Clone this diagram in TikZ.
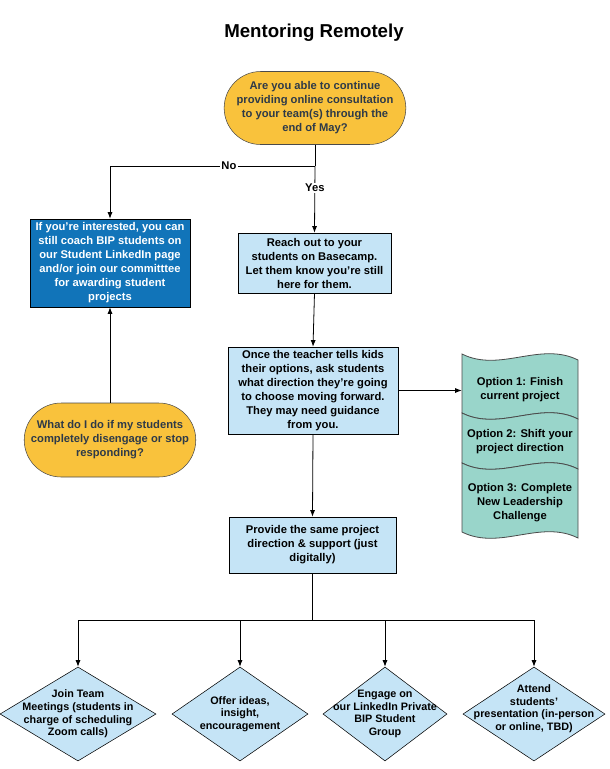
\documentclass[tikz,border=0pt]{standalone}
\usepackage{fontspec}
\setmainfont{Liberation Sans}
\usepackage{tikz}
\usetikzlibrary{shapes.geometric,shapes.misc,arrows.meta}

\definecolor{askgold}{HTML}{F9C23C}
\definecolor{askink}{HTML}{2E3A48}
\definecolor{coachblue}{HTML}{1174B9}
\definecolor{stepblue}{HTML}{C5E4F6}
\definecolor{optteal}{HTML}{99D5CA}
\definecolor{optline}{HTML}{4A4A4A}

% one pixel of the page
\newcommand{\pxu}{0.75pt}

\tikzset{
  boxfont/.style = {font = \fontsize{8.4}{10.5}\selectfont\bfseries, align = center},
  askbox/.style = {rounded rectangle, boxfont,
      draw = optline,
      fill = askgold,
      text = askink,
      inner sep = 1pt},
  stepbox/.style = {rectangle, boxfont,
      draw = black,
      fill = stepblue,
      inner sep = 1pt},
  optshape/.style = {draw = optline, fill = optteal, line width = 0.6pt},
  opttext/.style = {boxfont, minimum width = 116*\pxu, inner sep = 1pt},
  waybox/.style = {diamond,
      draw = black,
      fill = stepblue,
      inner sep = 0pt,
      minimum height = 94*\pxu},
  waytext/.style = {font = \fontsize{8.1}{9.5}\selectfont\bfseries, align = center},
  flow/.style = {draw = black, line width = 0.6pt, -{Latex[length = 5pt, width = 3.8pt]}},
  lbl/.style = {fill = white, inner sep = 1pt, font = \fontsize{8.4}{10}\selectfont\bfseries}
}

\begin{document}
\begin{tikzpicture}[x = 0.75pt, y = -0.75pt]
\useasboundingbox (0,0) rectangle (610,769);

\node[font = \fontsize{14}{16}\selectfont\bfseries] (title) at (314,33) {Mentoring Remotely};

% question at the top
\node[askbox,
    minimum width = 169*\pxu,
    minimum height = 73*\pxu] (ask) at (315,108)
    {Are you able to continue\\providing online consultation\\to your team(s) through the\\end of May?};

% no branch
\node[stepbox,
    fill = coachblue,
    text = white,
    minimum width = 160*\pxu,
    minimum height = 88*\pxu] (coach) at (110,263)
    {If you're interested, you can\\still coach BIP students on\\our Student LinkedIn page\\and/or join our committtee\\for awarding student\\projects};

\node[askbox,
    minimum width = 170*\pxu,
    minimum height = 74*\pxu] (quit) at (110,440)
    {What do I do if my students\\completely disengage or stop\\responding?};

% yes branch
\node[stepbox,
    minimum width = 153*\pxu,
    minimum height = 60*\pxu] (reach) at (314.5,263)
    {Reach out to your\\students on Basecamp.\\Let them know you're still\\here for them.};

\node[stepbox,
    minimum width = 170*\pxu,
    minimum height = 87*\pxu] (once) at (313,390.5)
    {Once the teacher tells kids\\their options, ask students\\what direction they're going\\to choose moving forward.\\They may need guidance\\from you.};

\node[stepbox,
    minimum width = 167*\pxu,
    minimum height = 56*\pxu] (provide) at (312.5,545)
    {Provide the same project\\direction \& support (just\\digitally)};

% options, three wavy strips
\filldraw[optshape] (462,354) .. controls (500,373) and (540,341) .. (578,360)
    -- (578,419) .. controls (540,400) and (500,432) .. (462,413) -- cycle;
\filldraw[optshape] (462,413) .. controls (500,432) and (540,400) .. (578,419)
    -- (578,469) .. controls (540,450) and (500,482) .. (462,463) -- cycle;
\filldraw[optshape] (462,463) .. controls (500,482) and (540,450) .. (578,469)
    -- (578,538) .. controls (540,519) and (500,551) .. (462,532) -- cycle;
\node[opttext] (opta) at (520,390) {Option 1: Finish\\current project};
\node[opttext] (optb) at (520,442) {Option 2: Shift your\\project direction};
\node[opttext] (optc) at (520,503) {Option 3: Complete\\New Leadership\\Challenge};

% ways to help
\node[waybox, minimum width = 156*\pxu] (waya) at (78,714) {};
\node[waybox, minimum width = 136*\pxu] (wayb) at (240,714) {};
\node[waybox, minimum width = 124*\pxu] (wayc) at (385,714) {};
\node[waybox, minimum width = 142*\pxu] (wayd) at (534,714) {};
\node[waytext] at (waya) {Join Team\\Meetings (students in\\charge of scheduling\\Zoom calls)};
\node[waytext] at (wayb) {Offer ideas,\\insight,\\encouragement};
\node[waytext] at (wayc) {Engage on\\our LinkedIn Private\\BIP Student\\Group};
\node[waytext, yshift = 4pt] at (wayd) {Attend\\students'\\presentation (in-person\\or online, TBD)};

% connectors
\coordinate (fork) at (ask.south |- 0,166);
\coordinate (bus) at (provide.south |- 0,620);
\draw[line width = 0.6pt] (ask.south) -- (fork);
\draw[flow] (fork) -| node[lbl, pos = 0.21] {No} (coach.north);
\draw[flow] (fork) -- node[lbl, pos = 0.33] {Yes} (reach.north);
\draw[flow] (quit.north) -- (coach.south);
\draw[flow] (reach.south) -- (once.north);
\draw[flow] (once.east) -- (once.east -| opta.west);
\draw[flow] (once.south) -- (provide.north);
\draw[line width = 0.6pt] (provide.south) -- (bus);
\draw[flow] (bus) -| (waya.north);
\draw[flow] (bus) -| (wayb.north);
\draw[flow] (bus) -| (wayc.north);
\draw[flow] (bus) -| (wayd.north);

\end{tikzpicture}
\end{document}
